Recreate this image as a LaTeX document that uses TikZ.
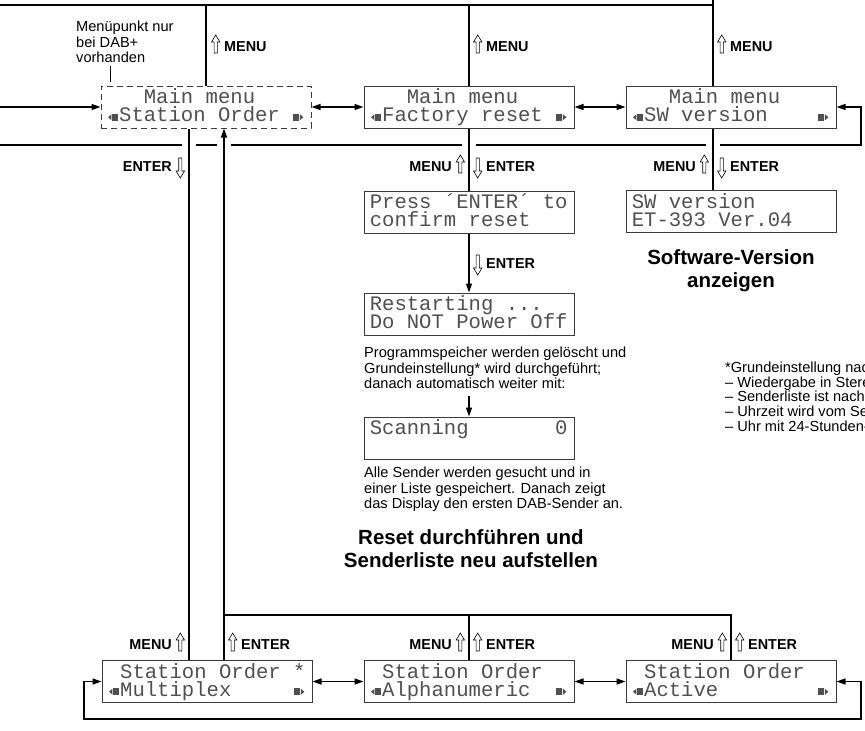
\documentclass[tikz,border=0pt]{standalone}
\usepackage{fontspec}
\setmainfont{Liberation Sans}
\newfontfamily\lcdfont{Liberation Mono}
\usetikzlibrary{arrows.meta}
\definecolor{lcdgray}{HTML}{505050}
\definecolor{framegray}{HTML}{3A3A3A}

% display symbols, one character cell each, and hollow key arrows
\newcommand{\lcdsize}{\lcdfont\fontsize{20.6}{18}\selectfont\lineskiplimit=-20pt\relax}
\newcommand{\lsp}{\hphantom{0}}
\newcommand{\lcdl}{\makebox[0.6em]{\tikz[x=1pt,y=1pt,baseline=0pt]{\fill[lcdgray] (0,4.5) -- (3.5,1.5) -- (3.5,7.5) -- cycle; \fill[lcdgray] (4,1) rectangle (10,8);}}}
\newcommand{\lcdr}{\makebox[0.6em]{\tikz[x=1pt,y=1pt,baseline=0pt]{\fill[lcdgray] (0,1) rectangle (6,8); \fill[lcdgray] (6.5,1.5) -- (10,4.5) -- (6.5,7.5) -- cycle;}}}
\newcommand{\lcdrows}[2]{\rule{0pt}{16.5pt}#1\\#2\rule[-5pt]{0pt}{5pt}}
\newcommand{\keyup}{\tikz[x=1pt,y=1pt,baseline=2pt,line width=0.6pt]\draw[fill=white] (-1.6,0) -- (-1.6,11) -- (-4.2,11) -- (0,18) -- (4.2,11) -- (1.6,11) -- (1.6,0) -- cycle;}
\newcommand{\keydown}{\tikz[x=1pt,y=1pt,baseline=7pt,line width=0.6pt]\draw[fill=white] (-1.6,20) -- (-1.6,7) -- (-4.2,7) -- (0,0) -- (4.2,7) -- (1.6,7) -- (1.6,20) -- cycle;}

\begin{document}
\begin{tikzpicture}[x=1pt, y=-1pt,
  lcd/.style={rectangle, draw=framegray, line width=1pt, minimum width=210pt,
    minimum height=42pt, inner xsep=5.8pt, inner ysep=1.25pt, text width=198.4pt,
    align=left, text=lcdgray, font=\lcdsize},
  lcddash/.style={lcd, dash pattern=on 6pt off 4pt},
  conn/.style={line width=1.3pt},
  arr/.style={conn, -{Triangle[length=9pt,width=6pt]}},
  darr/.style={conn, {Triangle[length=9pt,width=6pt]}-{Triangle[length=9pt,width=6pt]}},
  key/.style={inner sep=0pt, font=\bfseries\fontsize{14.4}{16}\selectfont},
  caption/.style={inner sep=0pt, align=left, anchor=north west,
    font=\fontsize{14.6}{15.6}\selectfont},
  heading/.style={inner sep=0pt, align=center, anchor=north,
    font=\bfseries\fontsize{20.5}{23.5}\selectfont}
]
  \useasboundingbox (0,0) rectangle (865,731);
  \clip (0,0) rectangle (865,731);

  % main menu
  \node[lcddash] (sto) at (206,107) {\lcdrows{\lsp\lsp\lsp Main\lsp menu}{\lcdl Station\lsp Order\lsp\lcdr}};
  \node[lcd] (fac) at (469,107) {\lcdrows{\lsp\lsp\lsp Main\lsp menu}{\lcdl Factory\lsp reset\lsp\lcdr}};
  \node[lcd] (swv) at (731,107) {\lcdrows{\lsp\lsp\lsp Main\lsp menu}{\lcdl SW\lsp version\lsp\lsp\lsp\lsp\lcdr}};

  % factory reset
  \node[lcd] (prs) at (469,212) {\lcdrows{Press\lsp ´ENTER´\lsp to}{confirm\lsp reset}};
  \node[lcd] (rst) at (469,314) {\lcdrows{Restarting\lsp ...}{Do\lsp NOT\lsp Power\lsp Off}};
  \node[lcd] (scn) at (469,438) {\lcdrows{Scanning\lsp\lsp\lsp\lsp\lsp\lsp\lsp 0}{}};
  \node[caption] (cap1) at (364,347) {Programmspeicher werden gelöscht und\\Grundeinstellung* wird durchgeführt;\\danach automatisch weiter mit:};
  \node[caption] (cap2) at (364,467) {Alle Sender werden gesucht und in\\einer Liste gespeichert. Danach zeigt\\das Display den ersten DAB-Sender an.};
  \node[heading] (rsttitle) at (471,529) {Reset durchführen und\\Senderliste neu aufstellen};

  % software version
  \node[lcd] (ver) at (731,211.5) {\lcdrows{SW\lsp version}{ET-393\lsp Ver.04}};
  \node[heading] (vertitle) at (731,249) {Software-Version\\anzeigen};

  % station order
  \node[lcd] (mpx) at (207,681.5) {\lcdrows{\lsp Station\lsp Order\lsp *}{\lcdl Multiplex\lsp\lsp\lsp\lsp\lsp\lcdr}};
  \node[lcd] (alp) at (469,681.5) {\lcdrows{\lsp Station\lsp Order}{\lcdl Alphanumeric\lsp\lsp\lcdr}};
  \node[lcd] (act) at (731,681.5) {\lcdrows{\lsp Station\lsp Order}{\lcdl Active\lsp\lsp\lsp\lsp\lsp\lsp\lsp\lsp\lcdr}};

  \node[caption] (dabnote) at (76,21) {Menüpunkt nur\\bei DAB+\\vorhanden};
  \node[caption, font=\fontsize{14.6}{14.6}\selectfont] (resetnote) at (725,362)
    {*Grundeinstellung nach\\– Wiedergabe in Stereo\\– Senderliste ist nach\\– Uhrzeit wird vom Sender\\– Uhr mit 24-Stunden-};

  \coordinate (menuL) at (-10,5);
  \coordinate (menuR) at (713,-10);
  \coordinate (wrapL) at (-10,145);
  \coordinate (wrapR) at (861,145);
  \coordinate (wrapB) at (84,719);
  \coordinate (wrapC) at (861,719);
  \coordinate (colL) at (189,0);
  \coordinate (retL) at (224,615);
  \coordinate (retR) at (731,615);
  \coordinate (lead) at (110,0);

  \draw[conn] (menuL) -- (menuL -| menuR);
  \draw[conn] (swv.north -| menuR) -- (menuR);
  \draw[conn] (sto.north) -- (sto.north |- menuL);
  \draw[conn] (fac.north) -- (fac.north |- menuL);

  \draw[darr] (sto.east) -- (fac.west);
  \draw[darr] (fac.east) -- (swv.west);
  \draw[darr] (sto.west) -- (sto.west -| wrapL) -- (wrapL) -- (wrapR) -- (wrapR |- swv.east) -- (swv.east);
  \foreach \gx in {189,224,469,713}
    \fill[white] (\gx-7,141) rectangle (\gx+7,149);

  \draw[conn] (sto.south -| colL) -- (mpx.north -| colL);
  \draw[arr] (mpx.north -| retL) -- (sto.south -| retL);
  \draw[conn] (retL) -- (retR) -- (act.north);
  \draw[conn] (alp.north) -- (alp.north |- retL);
  \draw[conn] (fac.south) -- (prs.north);
  \draw[arr] (prs.south) -- (rst.north);
  \draw[arr, shorten <=7pt] (cap1.south -| scn.north) -- (scn.north);
  \draw[conn] (swv.south -| menuR) -- (ver.north -| menuR);

  \draw[darr] (mpx.east) -- (alp.west);
  \draw[darr] (alp.east) -- (act.west);
  \draw[darr] (act.east) -- (act.east -| wrapC) -- (wrapC) -- (wrapB) -- (wrapB |- mpx.west) -- (mpx.west);

  \draw[line width=0.6pt, shorten <=3pt, shorten >=4pt] (dabnote.south -| lead) -- (sto.north -| lead);

  % key labels
  \node[key, anchor=base west] (kmenu1) at (211,51) {\keyup\hspace{4pt}MENU};
  \node[key, anchor=base west] (kmenu2) at (473,51) {\keyup\hspace{4pt}MENU};
  \node[key, anchor=base west] (kmenu3) at (717,51) {\keyup\hspace{4pt}MENU};
  \node[key, anchor=base east] (kenter1) at (185,171) {ENTER\hspace{4pt}\keydown};
  \node[key, anchor=base east] (kmenu4) at (465,171) {MENU\hspace{4pt}\keyup};
  \node[key, anchor=base west] (kenter2) at (473,171) {\keydown\hspace{4pt}ENTER};
  \node[key, anchor=base east] (kmenu5) at (709,171) {MENU\hspace{4pt}\keyup};
  \node[key, anchor=base west] (kenter3) at (717,171) {\keydown\hspace{4pt}ENTER};
  \node[key, anchor=base west] (kenter4) at (473,268) {\keydown\hspace{4pt}ENTER};
  \node[key, anchor=base east] (kmenu6) at (185,649) {MENU\hspace{4pt}\keyup};
  \node[key, anchor=base west] (kenter5) at (228,649) {\keyup\hspace{4pt}ENTER};
  \node[key, anchor=base east] (kmenu7) at (465,649) {MENU\hspace{4pt}\keyup};
  \node[key, anchor=base west] (kenter6) at (473,649) {\keyup\hspace{4pt}ENTER};
  \node[key, anchor=base east] (kmenu8) at (727,649) {MENU\hspace{4pt}\keyup};
  \node[key, anchor=base west] (kenter7) at (735,649) {\keyup\hspace{4pt}ENTER};
\end{tikzpicture}
\end{document}
